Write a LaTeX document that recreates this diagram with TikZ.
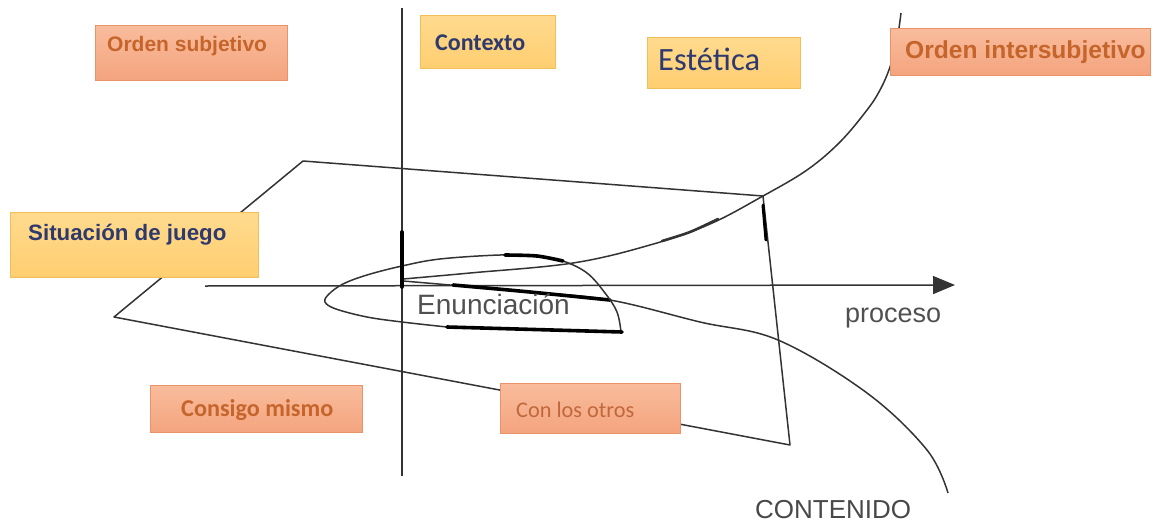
\documentclass[tikz,border=0pt]{standalone}
\usepackage{fontspec}
\setmainfont{Liberation Sans}
\newfontfamily\calibri{Carlito}
\usetikzlibrary{arrows.meta}
\definecolor{navy}{HTML}{2E3A6E}
\definecolor{obrown}{HTML}{C5652C}
\definecolor{obrownlt}{HTML}{C0683A}
\definecolor{txtgray}{HTML}{505050}
\definecolor{salmonT}{HTML}{F9BC9C}
\definecolor{salmonB}{HTML}{F4A47E}
\definecolor{salmonD}{HTML}{E9936A}
\definecolor{goldT}{HTML}{FFDA8E}
\definecolor{goldB}{HTML}{FFCE70}
\definecolor{goldD}{HTML}{F2BE5A}
\definecolor{ink}{HTML}{333333}
\tikzset{
  thinline/.style={draw=ink, line width=1.5pt, line join=round},
  thickline/.style={draw=black, line width=3.6pt, line cap=round},
  salmonbox/.style={draw=salmonD, line width=1pt, top color=salmonT, bottom color=salmonB, anchor=north west, inner sep=0pt},
  goldbox/.style={draw=goldD, line width=1pt, top color=goldT, bottom color=goldB, anchor=north west, inner sep=0pt},
  lbl/.style={anchor=base west, inner sep=0pt},
}
\begin{document}
\begin{tikzpicture}[x=1pt,y=-1pt]
\useasboundingbox (0,0) rectangle (1152,525);
% coordinates
\coordinate (v1) at (402,8);
\coordinate (v2) at (402,476);
\coordinate (axL) at (205,286);
\coordinate (axR) at (955,285);
\coordinate (q1) at (303,161);
\coordinate (q2) at (763,196);
\coordinate (q3) at (790,445);
\coordinate (q4) at (114,317);
% lines
\draw[thinline] (v1) -- (v2);
\draw[thinline, -{Triangle[length=22pt,width=18pt]}] (axL) -- (axR);
\draw[thinline] (q1) -- (q2) -- (q3) -- (q4) -- cycle;
% curve A (intersubjetivo)
\draw[thinline] plot[smooth, tension=0.6] coordinates {(403,279) (470,273) (573,263) (650,245) (710,224) (763,196) (807,170) (840,142) (867,110) (880,90) (890,67) (897,40) (901,13)};
\draw[draw=ink, line width=2.6pt, line cap=round] plot[smooth] coordinates {(662,241) (690,232) (718,219)};
% curve B (contenido)
\draw[thinline] plot[smooth, tension=0.6] coordinates {(403,281) (450,285) (530,292) (610,300) (700,322) (778,340) (867,393) (927,450) (948,493)};
\draw[thickline] plot[smooth] coordinates {(453,285) (530,292) (610,300)};
% loop (enunciacion)
\draw[thinline] plot[smooth, tension=0.6] coordinates {(447,327) (402,322) (367,317) (336,309) (325,302) (329,294) (343,284) (367,275) (402,266) (440,259) (500,255) (537,256) (563,261) (587,273) (605,293) (617,312) (621,332)};
\draw[thickline] plot[smooth] coordinates {(505,255) (537,256) (563,261)};
\draw[thickline] (447,327) -- (622,332);
\draw[thickline] (402,232) -- (402,287);
\draw[draw=black, line width=3pt, line cap=round] (763,205) -- (766,240);
% boxes
\node[salmonbox, minimum width=192pt, minimum height=55pt] (b1) at (95,25) {};
\node[goldbox, minimum width=135pt, minimum height=53pt] (b2) at (420,15) {};
\node[goldbox, minimum width=153pt, minimum height=51pt] (b3) at (647,37) {};
\node[salmonbox, minimum width=260pt, minimum height=47pt] (b4) at (890,28) {};
\node[goldbox, minimum width=248pt, minimum height=65pt] (b5) at (10,212) {};
\node[salmonbox, minimum width=212pt, minimum height=47pt] (b6) at (150,385) {};
\node[salmonbox, minimum width=180pt, minimum height=50pt] (b7) at (500,383) {};
% labels
\node[lbl, text=obrown] (t1) at (107,51) {\fontsize{21}{25}\selectfont\bfseries Orden subjetivo};
\node[lbl, text=navy] (t2) at (435,50) {\calibri\fontsize{24}{28}\selectfont\bfseries Contexto};
\node[lbl, text=navy] (t3) at (658,70) {\calibri\fontsize{32.5}{38}\selectfont Estética};
\node[lbl, text=obrown] (t4) at (905,58) {\fontsize{24.6}{29}\selectfont\bfseries Orden intersubjetivo};
\node[lbl, text=navy] (t5) at (28,240) {\fontsize{22.3}{27}\selectfont\bfseries Situación de juego};
\node[lbl, text=txtgray] (t6) at (417,314) {\fontsize{28}{32}\selectfont Enunciación};
\node[lbl, text=txtgray] (t7) at (845,322) {\fontsize{27}{31}\selectfont proceso};
\node[lbl, text=txtgray!90!black] (t8) at (755,518) {\fontsize{26}{30}\selectfont CONTENIDO};
\node[lbl, text=obrown] (t9) at (181,416) {\calibri\fontsize{24.2}{28}\selectfont\bfseries Consigo mismo};
\node[lbl, text=obrownlt] (t10) at (516,417) {\calibri\fontsize{22.3}{26}\selectfont Con los otros};
\end{tikzpicture}
\end{document}
